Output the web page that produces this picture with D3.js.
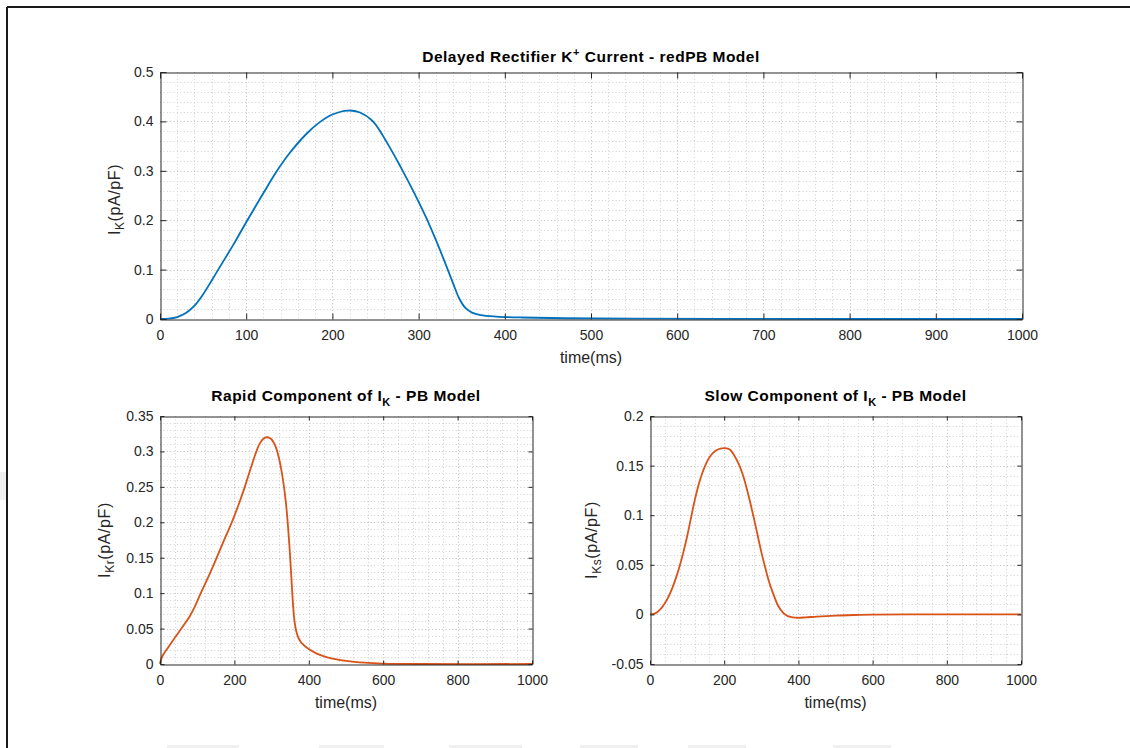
<!DOCTYPE html>
<html>
<head>
<meta charset="utf-8">
<script src="https://cdn.jsdelivr.net/npm/d3@7"></script>
<style>
  body { margin: 0; background: #fff; }
  svg { display: block; font-family: "Liberation Sans", Arial, Helvetica, sans-serif; }
</style>
</head>
<body>
<svg id="fig" width="1130" height="748"></svg>
<script>
// ---- data (time in ms, current in pA/pF) ----
var ikTime = [0, 10, 20, 30, 40, 50, 60, 70, 86, 100, 120, 135, 150, 170, 185, 200, 218, 232, 247, 265, 280, 295, 308, 320, 330, 340, 347, 354, 362, 372, 390, 420, 470, 550, 650, 800, 1000];
var ikVals = [0, 0.0008, 0.004, 0.012, 0.027, 0.05, 0.078, 0.107, 0.153, 0.196, 0.255, 0.298, 0.335, 0.375, 0.398, 0.414, 0.422, 0.418, 0.40, 0.352, 0.305, 0.255, 0.208, 0.16, 0.117, 0.072, 0.042, 0.023, 0.013, 0.008, 0.005, 0.003, 0.0015, 0.0006, 0.0002, 0, 0];

var ikrTime = [0, 2, 5, 9, 14, 30, 50, 70, 80, 90, 100, 110, 130, 150, 170, 193, 210, 228, 245, 257, 268, 278, 287, 298, 310, 320, 330, 338, 344, 350, 355, 360, 364, 368, 373, 380, 390, 400, 420, 450, 500, 550, 600, 700, 1000];
var ikrVals = [0, 0.005, 0.0095, 0.0135, 0.0175, 0.0295, 0.0445, 0.0595, 0.0675, 0.077, 0.0885, 0.1005, 0.123, 0.147, 0.172, 0.20, 0.223, 0.25, 0.278, 0.297, 0.311, 0.318, 0.32, 0.318, 0.308, 0.29, 0.262, 0.23, 0.195, 0.15, 0.105, 0.068, 0.052, 0.043, 0.036, 0.030, 0.025, 0.021, 0.015, 0.0095, 0.0045, 0.0018, 0.0006, 0, 0];

var iksTime = [0, 10, 20, 30, 40, 50, 60, 70, 80, 90, 100, 112, 120, 130, 140, 150, 160, 170, 180, 190, 202, 215, 229, 240, 250, 260, 270, 280, 290, 300, 310, 320, 332, 345, 358, 370, 385, 398, 420, 450, 500, 550, 600, 700, 1000];
var iksVals = [0, 0.0006, 0.0025, 0.006, 0.0112, 0.018, 0.0265, 0.0368, 0.0488, 0.0628, 0.0786, 0.10, 0.1142, 0.1292, 0.1415, 0.151, 0.1582, 0.1628, 0.1657, 0.1672, 0.1676, 0.1662, 0.159, 0.151, 0.141, 0.128, 0.113, 0.097, 0.080, 0.063, 0.048, 0.034, 0.021, 0.009, 0.002, -0.0015, -0.003, -0.0034, -0.003, -0.0022, -0.0012, -0.0006, -0.0002, 0, 0];

// tick values
var topXTicks = [0, 100, 200, 300, 400, 500, 600, 700, 800, 900, 1000];
var topYTicks = [0, 0.1, 0.2, 0.3, 0.4, 0.5];
var botXTicks = [0, 200, 400, 600, 800, 1000];
var ikrYTicks = [0, 0.05, 0.1, 0.15, 0.2, 0.25, 0.3, 0.35];
var iksYTicks = [-0.05, 0, 0.05, 0.1, 0.15, 0.2];

var BLUE = "#0072BD", ORANGE = "#D95319", INK = "#262626";

var svg = d3.select("#fig");

// screenshot leftovers: window frame and faint smudges along the edges
svg.append("line").attr("x1", 7).attr("y1", 7).attr("x2", 1130).attr("y2", 7)
  .attr("stroke", "#1a1a1a").attr("stroke-width", 2);
svg.append("line").attr("x1", 7).attr("y1", 7).attr("x2", 7).attr("y2", 748)
  .attr("stroke", "#1a1a1a").attr("stroke-width", 2);
var smudges = [[167, 745, 72, 3], [319, 745, 65, 3], [449, 745, 73, 3], [580, 745, 58, 3], [688, 745, 58, 3], [833, 745, 58, 3], [0, 472, 6, 28]];
svg.selectAll(".smudge").data(smudges).join("rect")
  .attr("x", d => d[0]).attr("y", d => d[1]).attr("width", d => d[2]).attr("height", d => d[3])
  .attr("fill", "#efefef");

function minorTicks(major) {
  var out = [];
  for (var i = 0; i < major.length - 1; i++) {
    var step = (major[i + 1] - major[i]) / 5;
    for (var k = 1; k < 5; k++) out.push(major[i] + k * step);
  }
  return out;
}

function fmt(d) { return d === 0 ? "0" : String(+d.toFixed(3)); }

// text with sub/superscript pieces: parts = [[text, shift], ...]
function richText(sel, parts, small) {
  var prev = 0;
  parts.forEach(function(p) {
    var t = sel.append("tspan").text(p[0]).attr("dy", p[1] - prev);
    if (p[1] !== 0) t.attr("font-size", small);
    prev = p[1];
  });
}

function drawPanel(p) {
  var x = d3.scaleLinear().domain([0, 1000]).range([p.x0, p.x1]);
  var y = d3.scaleLinear().domain(p.yDomain).range([p.y1, p.y0]);
  var g = svg.append("g");

  var xMinor = minorTicks(p.xTicks), yMinor = minorTicks(p.yTicks);

  // grid: minor + major, all dotted
  var grid = g.append("g").attr("stroke-dasharray", "1,2.4").attr("stroke-width", 1);
  grid.selectAll(".vx").data(xMinor.concat(p.xTicks.slice(1, -1))).join("line")
    .attr("x1", d => Math.round(x(d)) + 0.5).attr("x2", d => Math.round(x(d)) + 0.5)
    .attr("y1", p.y0).attr("y2", p.y1)
    .attr("stroke", d => p.xTicks.indexOf(d) >= 0 ? "#bdbdbd" : "#d0d0d0");
  grid.selectAll(".hy").data(yMinor.concat(p.yTicks.slice(1, -1))).join("line")
    .attr("y1", d => Math.round(y(d)) + 0.5).attr("y2", d => Math.round(y(d)) + 0.5)
    .attr("x1", p.x0).attr("x2", p.x1)
    .attr("stroke", d => p.yTicks.indexOf(d) >= 0 ? "#bdbdbd" : "#d0d0d0");

  // curve
  var line = d3.line().x((d, i) => x(p.t[i])).y(d => y(d)).curve(d3.curveCatmullRom.alpha(0.5));
  g.append("path").datum(p.v).attr("d", line)
    .attr("fill", "none").attr("stroke", p.color).attr("stroke-width", 1.8)
    .attr("stroke-linejoin", "round");

  // axes, ticks inward on all sides
  var tl = p.tickLen;
  function style(a) {
    a.attr("font-family", null).attr("font-size", 14);
    a.select(".domain").attr("stroke", INK);
    a.selectAll(".tick line").attr("stroke", INK);
    a.selectAll(".tick text").attr("fill", INK);
  }
  g.append("g").attr("transform", "translate(0," + (p.y1 + 0.5) + ")")
    .call(d3.axisBottom(x).tickValues(p.xTicks).tickFormat(fmt).tickSizeInner(-tl).tickSizeOuter(0).tickPadding(11))
    .call(style);
  g.append("g").attr("transform", "translate(0," + (p.y0 + 0.5) + ")")
    .call(d3.axisTop(x).tickValues(p.xTicks).tickFormat("").tickSizeInner(-tl).tickSizeOuter(0))
    .call(style);
  g.append("g").attr("transform", "translate(" + (p.x0 + 0.5) + ",0)")
    .call(d3.axisLeft(y).tickValues(p.yTicks).tickFormat(fmt).tickSizeInner(-tl).tickSizeOuter(0).tickPadding(7))
    .call(style);
  g.append("g").attr("transform", "translate(" + (p.x1 + 0.5) + ",0)")
    .call(d3.axisRight(y).tickValues(p.yTicks).tickFormat("").tickSizeInner(-tl).tickSizeOuter(0))
    .call(style);

  var cx = (p.x0 + p.x1) / 2, cy = (p.y0 + p.y1) / 2;

  // title
  var title = g.append("text").attr("x", cx).attr("y", p.titleY)
    .attr("text-anchor", "middle").attr("font-weight", "bold").attr("font-size", 15.5)
    .attr("letter-spacing", 0.5).attr("fill", "#000");
  richText(title, p.title, 11);

  // x label
  g.append("text").attr("x", cx).attr("y", p.y1 + 44)
    .attr("text-anchor", "middle").attr("font-size", 16).attr("fill", INK).text("time(ms)");

  // y label
  var yl = g.append("text").attr("transform", "translate(" + p.ylabX + "," + (cy + p.ylabDy) + ") rotate(-90)")
    .attr("text-anchor", "middle").attr("font-size", 16).attr("letter-spacing", 0.6).attr("fill", INK);
  richText(yl, p.ylabel, 12);
}

drawPanel({
  x0: 160, x1: 1022, y0: 72, y1: 319, yDomain: [0, 0.5],
  xTicks: topXTicks, yTicks: topYTicks, t: ikTime, v: ikVals, color: BLUE, tickLen: 6,
  titleY: 62, title: [["Delayed Rectifier K", 0], ["+", -6], [" Current - redPB Model", 0]],
  ylabX: 120, ylabDy: 4, ylabel: [["I", 0], ["K", 4], ["(pA/pF)", 0]]
});

drawPanel({
  x0: 160, x1: 532, y0: 416, y1: 664, yDomain: [0, 0.35],
  xTicks: botXTicks, yTicks: ikrYTicks, t: ikrTime, v: ikrVals, color: ORANGE, tickLen: 4,
  titleY: 401, title: [["Rapid Component of I", 0], ["K", 5], [" - PB Model", 0]],
  ylabX: 110, ylabDy: 0, ylabel: [["I", 0], ["Kr", 4], ["(pA/pF)", 0]]
});

drawPanel({
  x0: 650, x1: 1021, y0: 416, y1: 664, yDomain: [-0.05, 0.2],
  xTicks: botXTicks, yTicks: iksYTicks, t: iksTime, v: iksVals, color: ORANGE, tickLen: 4,
  titleY: 401, title: [["Slow Component of I", 0], ["K", 5], [" - PB Model", 0]],
  ylabX: 597, ylabDy: 0, ylabel: [["I", 0], ["Ks", 4], ["(pA/pF)", 0]]
});
</script>
</body>
</html>
